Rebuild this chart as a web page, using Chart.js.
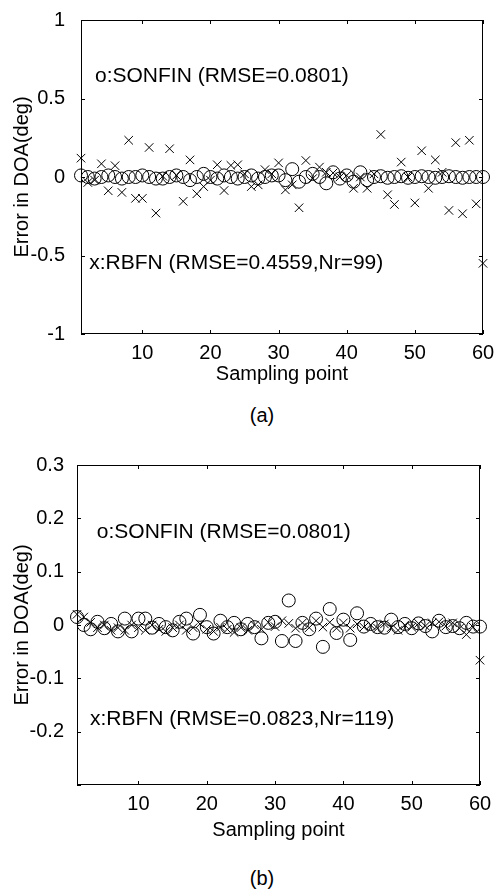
<!DOCTYPE html>
<html>
<head>
<meta charset="utf-8">
<script src="https://cdn.jsdelivr.net/npm/chart.js@4.4.1/dist/chart.umd.min.js"></script>
<style>
  body { margin: 0; background: #fff; width: 496px; height: 892px; position: relative; overflow: hidden; }
  canvas { position: absolute; left: 0; }
  #chartA { top: 0; }
  #chartB { top: 448px; }
  .cap { position: absolute; left: 0; width: 524px; text-align: center; font: 20px 'Liberation Sans', Arial, sans-serif; color: #000; }
</style>
</head>
<body>
<canvas id="chartA" width="496" height="395"></canvas>
<div class="cap" style="top: 404px;">(a)</div>
<canvas id="chartB" width="496" height="400"></canvas>
<div class="cap" style="top: 867px;">(b)</div>
<script>
// sampling points
const samplePts = [1, 2, 3, 4, 5, 6, 7, 8, 9, 10, 11, 12, 13, 14, 15, 16, 17, 18, 19, 20,
  21, 22, 23, 24, 25, 26, 27, 28, 29, 30, 31, 32, 33, 34, 35, 36, 37, 38, 39, 40,
  41, 42, 43, 44, 45, 46, 47, 48, 49, 50, 51, 52, 53, 54, 55, 56, 57, 58, 59, 60];

// (a) errors in DOA (deg)
const sonfinA = [0.01, 0.0, -0.01, 0.0, 0.01, 0.0, -0.01, 0.0, 0.0, 0.01,
  0.0, -0.01, -0.01, 0.0, 0.01, 0.0, -0.02, 0.0, 0.02, 0.0,
  -0.01, 0.01, 0.0, -0.01, 0.0, 0.01, -0.01, 0.0, 0.01, 0.01,
  -0.02, 0.05, -0.03, 0.0, 0.02, 0.0, -0.04, 0.03, -0.01, 0.01,
  -0.03, 0.03, -0.02, 0.0, 0.005, -0.005, 0.0, 0.005, -0.005, 0.0,
  0.005, 0.0, -0.005, 0.0, 0.005, 0.0, -0.005, 0.0, 0.0, 0.0];
const rbfnA = [0.12, -0.035, -0.02, 0.084, -0.088, 0.072, -0.098, 0.234, -0.136, -0.136,
  0.188, -0.23, 0.005, 0.18, 0.01, -0.155, 0.109, -0.107, -0.061, -0.02,
  0.078, -0.086, 0.074, 0.078, 0.02, -0.061, -0.05, 0.047, 0.02, 0.09,
  -0.082, -0.05, -0.196, 0.105, -0.01, 0.063, 0.03, 0.026, 0.0, 0.01,
  -0.072, 0.0, -0.072, 0.02, 0.271, -0.113, -0.175, 0.095, 0.0, -0.165,
  0.167, -0.072, 0.109, 0.03, -0.213, 0.219, -0.234, 0.234, -0.171, -0.55];

// (b) errors in DOA (deg)
const sonfinB = [0.015, 0.0, -0.008, 0.006, -0.006, 0.002, -0.012, 0.012, -0.012, 0.012,
  0.012, -0.005, 0.002, -0.004, -0.01, 0.006, 0.012, -0.016, 0.019, -0.004,
  -0.016, 0.008, -0.004, 0.004, -0.008, 0.002, -0.004, -0.025, 0.004, 0.006,
  -0.03, 0.046, -0.03, 0.004, -0.008, 0.012, -0.041, 0.03, -0.015, 0.01,
  -0.028, 0.022, -0.003, 0.002, -0.004, -0.005, 0.01, -0.004, 0.002, -0.006,
  0.003, -0.002, -0.012, 0.008, -0.004, -0.002, -0.006, 0.004, -0.003, -0.003];
const rbfnB = [0.02, 0.015, 0.005, -0.005, 0.0, -0.01, -0.005, -0.01, 0.0, -0.005,
  -0.01, 0.0, -0.008, -0.012, -0.005, 0.0, -0.01, -0.005, 0.002, -0.008,
  -0.012, -0.004, -0.008, -0.014, -0.005, -0.01, 0.0, -0.008, 0.005, -0.003,
  0.008, 0.003, -0.006, 0.004, -0.005, 0.008, -0.004, 0.005, -0.006, 0.004,
  -0.006, 0.002, -0.004, 0.0, -0.006, 0.002, -0.005, -0.01, 0.0, -0.004,
  0.003, -0.002, 0.004, 0.006, -0.002, 0.004, -0.006, -0.018, -0.004, -0.066];

// tick labels
const xTicks = [10, 20, 30, 40, 50, 60];
const yTicksA = [-1, -0.5, 0, 0.5, 1];
const yLabelsA = ['-1', '-0.5', '0', '0.5', '1'];
const yTicksB = [-0.3, -0.2, -0.1, 0, 0.1, 0.2, 0.3];
const yLabelsB = ['', '-0.2', '-0.1', '0', '0.1', '0.2', '0.3'];

const FONT = "'Liberation Sans', Arial, sans-serif";
Chart.defaults.font.family = FONT;
Chart.defaults.color = '#000';

const toPts = ys => samplePts.map((x, i) => ({ x: x, y: ys[i] }));

// box, inward tick marks and the text notes
const framePlugin = {
  id: 'frame',
  afterDatasetsDraw(chart, args, opts) {
    const { ctx, chartArea: a, scales: { x, y } } = chart;
    ctx.save();
    ctx.strokeStyle = '#000';
    ctx.lineWidth = 1;
    ctx.strokeRect(a.left + 0.5, a.top + 0.5, a.width - 1, a.height - 1);
    ctx.beginPath();
    x.ticks.forEach(t => {
      const px = Math.round(x.getPixelForValue(t.value)) + 0.5;
      ctx.moveTo(px, a.bottom); ctx.lineTo(px, a.bottom - 4);
      ctx.moveTo(px, a.top); ctx.lineTo(px, a.top + 4);
    });
    y.ticks.forEach(t => {
      const py = Math.round(y.getPixelForValue(t.value)) + 0.5;
      ctx.moveTo(a.left, py); ctx.lineTo(a.left + 4, py);
      ctx.moveTo(a.right, py); ctx.lineTo(a.right - 4, py);
    });
    ctx.stroke();
    ctx.fillStyle = '#000';
    ctx.font = '21px ' + FONT;
    ctx.textBaseline = 'middle';
    (opts.notes || []).forEach(n => {
      ctx.fillText(n.text, x.getPixelForValue(n.x), y.getPixelForValue(n.y));
    });
    ctx.restore();
  }
};

function makeChart(id, sonfin, rbfn, yTicks, yLabels, o) {
  return new Chart(document.getElementById(id).getContext('2d'), {
    type: 'scatter',
    data: {
      datasets: [{
        label: 'SONFIN',
        data: toPts(sonfin),
        pointStyle: 'circle',
        pointRadius: 6.5,
        borderColor: '#000',
        backgroundColor: 'rgba(0,0,0,0)',
        borderWidth: 1,
        clip: false
      }, {
        label: 'RBFN',
        data: toPts(rbfn),
        pointStyle: 'crossRot',
        pointRadius: 6,
        borderColor: '#000',
        borderWidth: 1,
        clip: false
      }]
    },
    options: {
      responsive: false,
      animation: false,
      devicePixelRatio: 1,
      layout: { padding: { top: 13, right: o.right, left: 0, bottom: 0 } },
      plugins: {
        legend: { display: false },
        tooltip: { enabled: false },
        frame: { notes: o.notes }
      },
      scales: {
        x: {
          type: 'linear',
          min: 1, max: 60,
          afterBuildTicks: s => { s.ticks = xTicks.map(v => ({ value: v })); },
          afterFit: s => { s.height = o.xHeight; },
          grid: { display: false },
          border: { display: false },
          ticks: { font: { size: 20 }, padding: -1, maxRotation: 0 },
          title: { display: true, text: 'Sampling point', font: { size: 20 }, padding: { top: 0, bottom: o.xTitlePad } }
        },
        y: {
          type: 'linear',
          min: yTicks[0], max: yTicks[yTicks.length - 1],
          afterBuildTicks: s => { s.ticks = yTicks.map(v => ({ value: v })); },
          afterFit: s => { s.width = o.yWidth; },
          grid: { display: false },
          border: { display: false },
          ticks: {
            font: { size: 20 },
            padding: o.yPad,
            callback: (v, i) => yLabels[i]
          },
          title: { display: true, text: 'Error in DOA(deg)', font: { size: 20 }, padding: { top: 10, bottom: 0 } }
        }
      }
    },
    plugins: [framePlugin]
  });
}

makeChart('chartA', sonfinA, rbfnA, yTicksA, yLabelsA, {
  right: 13, yWidth: 81, xHeight: 61, xTitlePad: 9, yPad: 8,
  notes: [
    { text: 'o:SONFIN (RMSE=0.0801)', x: 3.05, y: 0.645 },
    { text: 'x:RBFN (RMSE=0.4559,Nr=99)', x: 2.2, y: -0.55 }
  ]
});

makeChart('chartB', sonfinB, rbfnB, yTicksB, yLabelsB, {
  right: 16, yWidth: 77, xHeight: 63, xTitlePad: 6, yPad: 5,
  notes: [
    { text: 'o:SONFIN (RMSE=0.0801)', x: 3.9, y: 0.174 },
    { text: 'x:RBFN (RMSE=0.0823,Nr=119)', x: 2.9, y: -0.176 }
  ]
});
</script>
</body>
</html>
